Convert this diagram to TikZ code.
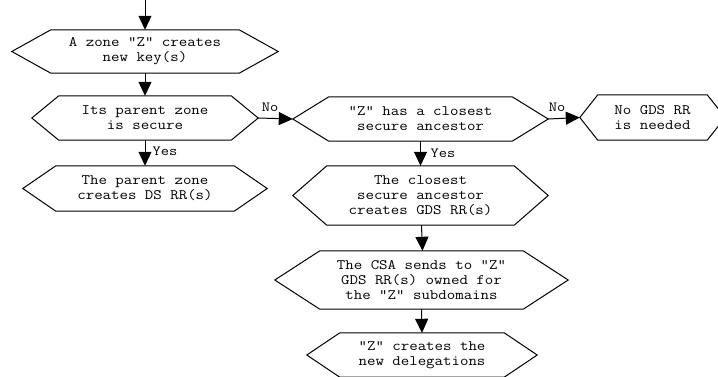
\documentclass[tikz,border=0pt]{standalone}
\usepackage{fontspec}
\setmonofont[FakeStretch=1.14]{Latin Modern Mono}
\usetikzlibrary{arrows.meta}

% hexagonal outline around a rectangular node; #2 = horizontal inset of the corners
\newcommand\hexframe[2]{%
  \draw[hexline] ([xshift=#2]#1.north west) -- ([xshift=-#2]#1.north east)
    -- (#1.east) -- ([xshift=-#2]#1.south east) -- ([xshift=#2]#1.south west)
    -- (#1.west) -- cycle;}

\tikzset{
  hexline/.style={line width=1pt, line join=miter},
  hexbox/.style={rectangle, inner sep=0pt, align=center,
    font=\ttfamily\fontsize{14.4}{15}\selectfont},
  flow/.style={line width=1pt, -{Triangle[length=14pt,width=13pt]}},
  tag/.style={inner sep=0pt, font=\ttfamily\fontsize{14}{14}\selectfont}
}

\begin{document}
\begin{tikzpicture}[x=1pt,y=-1pt]
\useasboundingbox (0,0) rectangle (718,376);
\clip (0,0) rectangle (718,376);

% decision and action boxes
\node[hexbox, minimum width=266pt, minimum height=43pt] (keys) at (145,51.5)
  {A zone "Z" creates\\new key(s)};
\node[hexbox, minimum width=226pt, minimum height=44pt] (parent) at (145,118)
  {Its parent zone\\is secure};
\node[hexbox, minimum width=244pt, minimum height=45pt] (ds) at (145,188.5)
  {The parent zone\\creates DS RR(s)};
\node[hexbox, minimum width=255pt, minimum height=44pt] (csa) at (420.5,119)
  {"Z" has a closest\\secure ancestor};
\node[hexbox, minimum width=145pt, minimum height=45pt] (nogds) at (652.5,117.5)
  {No GDS RR\\is needed};
\node[hexbox, minimum width=255pt, minimum height=59pt] (gds) at (420.5,195.5)
  {The closest\\secure ancestor\\creates GDS RR(s)};
\node[hexbox, minimum width=293pt, minimum height=58pt] (send) at (421.5,280)
  {The CSA sends to "Z"\\GDS RR(s) owned for\\the "Z" subdomains};
\node[hexbox, minimum width=230pt, minimum height=44pt] (deleg) at (422,355)
  {"Z" creates the\\new delegations};

\hexframe{keys}{39pt}
\hexframe{parent}{27pt}
\hexframe{ds}{33pt}
\hexframe{csa}{36pt}
\hexframe{nogds}{18pt}
\hexframe{gds}{34pt}
\hexframe{send}{45pt}
\hexframe{deleg}{33pt}

% connectors
\coordinate (start) at (145,0);
\draw[flow] (start) -- (keys.north);
\draw[flow] (keys.south) -- (parent.north);
\draw[flow] (parent.south) -- (ds.north);
\draw[flow] (parent.east) -- (csa.west);
\draw[flow] (csa.east) -- (nogds.west);
\draw[flow] (csa.south) -- (gds.north);
\draw[flow] ([xshift=1pt]gds.south) -- ([xshift=1pt]send.north);
\draw[flow] (send.south) -- (deleg.north);

% branch labels
\node[tag] (no1) at (270,107) {No};
\node[tag] (no2) at (557,107) {No};
\node[tag] (yes1) at (165,151) {Yes};
\node[tag] (yes2) at (443,153) {Yes};
\end{tikzpicture}
\end{document}
